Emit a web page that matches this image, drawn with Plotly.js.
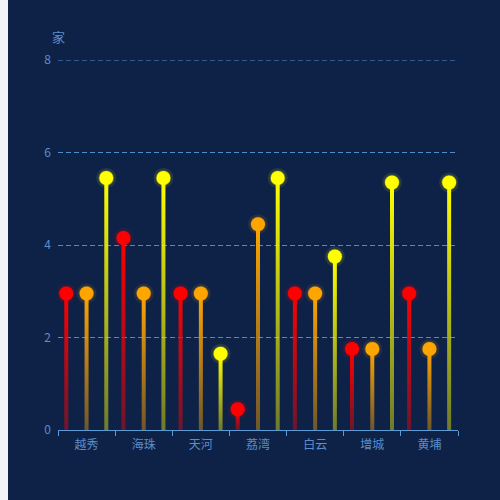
<!DOCTYPE html>
<html>
<head>
<meta charset="utf-8">
<script src="https://cdn.plot.ly/plotly-3.0.1.min.js"></script>
<style>
    body { margin: 0; background: #f1f3f8; }
    #myDiv { margin-left: 8px; width: 492px; height: 500px; }
</style>
</head>
<body>
<div id="myDiv"></div>
<script>
// Datos
const categories = ['越秀', '海珠', '天河', '荔湾', '白云', '增城', '黄埔'];
const redVals = [2.95, 4.15, 2.95, 0.45, 2.95, 1.75, 2.95];
const orangeVals = [2.95, 2.95, 2.95, 4.45, 2.95, 1.75, 1.75];
const yellowVals = [5.45, 5.45, 1.65, 5.45, 3.75, 5.35, 5.35];
const yTicks = [0, 2, 4, 6, 8];

const series = [
    { values: redVals, offset: -0.355, rgb: '255,0,0' },
    { values: orangeVals, offset: 0, rgb: '255,165,0' },
    { values: yellowVals, offset: 0.345, rgb: '255,255,0' }
];

const textColor = '#5b8ec8';
const lineColor = '#5b9bd5';
const gridColor = '#4a8ccc';
const halfW = 0.035;

let traces = [];

// Tallos con degradado vertical, uno por valor
for (let s of series) {
    s.values.forEach((v, i) => {
        let c = i + s.offset;
        traces.push({
            x: [c - halfW, c + halfW, c + halfW, c - halfW, c - halfW],
            y: [0, 0, v, v, 0],
            mode: 'lines',
            type: 'scatter',
            fill: 'toself',
            line: { width: 0, color: 'rgba(0,0,0,0)' },
            fillgradient: {
                type: 'vertical',
                colorscale: [[0, 'rgba(' + s.rgb + ',0.4)'], [1, 'rgba(' + s.rgb + ',1)']]
            },
            hoverinfo: 'skip',
            showlegend: false
        });
    });
}

// Cabezas con brillo
for (let s of series) {
    let xs = s.values.map((_, i) => i + s.offset);
    traces.push({
        x: xs, y: s.values, mode: 'markers', type: 'scatter',
        marker: { size: 20, color: 'rgba(' + s.rgb + ',0.1)', line: { width: 0 } },
        hoverinfo: 'skip', showlegend: false
    });
    traces.push({
        x: xs, y: s.values, mode: 'markers', type: 'scatter',
        marker: { size: 14, color: 'rgb(' + s.rgb + ')', line: { width: 1.5, color: 'rgba(' + s.rgb + ',0.25)' } },
        hoverinfo: 'skip', showlegend: false
    });
}

let layout = {
    paper_bgcolor: '#0e2248',
    plot_bgcolor: '#0e2248',
    width: 492,
    height: 500,
    margin: { l: 50, r: 42, t: 60, b: 70, pad: 0 },
    font: { family: '"Noto Sans CJK SC", "Noto Sans", sans-serif', size: 12, color: textColor },
    showlegend: false,
    xaxis: {
        type: 'linear',
        range: [-0.5, categories.length - 0.5],
        tickvals: categories.map((_, i) => i),
        ticktext: categories,
        ticks: '',
        ticklabelstandoff: 4,
        showgrid: false,
        zeroline: false,
        showline: true,
        linecolor: lineColor,
        linewidth: 1,
        tickfont: { color: textColor, size: 12 },
        minor: {
            tickvals: Array.from({ length: categories.length + 1 }, (_, i) => i - 0.5),
            ticks: 'outside',
            ticklen: 5,
            tickcolor: lineColor,
            tickwidth: 1,
            showgrid: false
        },
        fixedrange: true
    },
    yaxis: {
        range: [0, 8],
        tickvals: yTicks,
        ticks: '',
        showgrid: true,
        gridcolor: gridColor,
        griddash: '5px,3px',
        gridwidth: 1,
        zeroline: false,
        showline: false,
        ticklabelstandoff: 6,
        tickfont: { color: textColor, size: 12 },
        fixedrange: true
    },
    // línea de rejilla superior (Plotly la omite en el borde)
    shapes: [{
        type: 'line',
        xref: 'paper', yref: 'y',
        x0: 0, x1: 1,
        y0: yTicks[yTicks.length - 1], y1: yTicks[yTicks.length - 1],
        layer: 'below',
        line: { color: gridColor, width: 1, dash: '5px,3px' }
    }],
    annotations: [{
        text: '家',
        xref: 'paper', yref: 'paper',
        x: 0, y: 1,
        xanchor: 'center', yanchor: 'bottom',
        yshift: 12,
        showarrow: false,
        font: { size: 13, color: textColor }
    }]
};

Plotly.newPlot('myDiv', traces, layout, { displayModeBar: false, staticPlot: true });
</script>
</body>
</html>
